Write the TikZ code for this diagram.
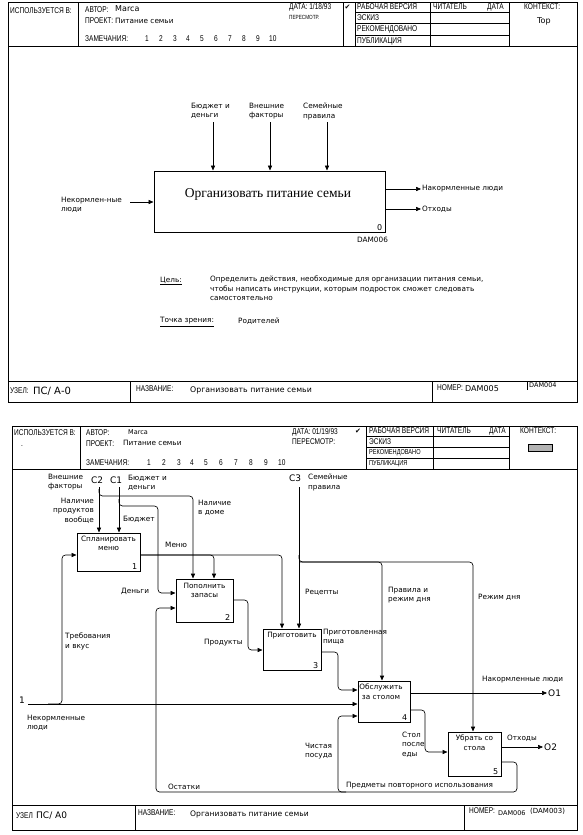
\documentclass[tikz,border=0pt]{standalone}
\usepackage{fontspec}
\setmainfont{DejaVu Sans}
\newfontfamily\hdr[FakeStretch=0.78]{Liberation Sans}
\newfontfamily\lserif{Liberation Serif}
\newfontfamily\dv{DejaVu Sans}
\usetikzlibrary{arrows.meta}
\tikzset{
  frm/.style={line width=0.9pt},
  rule/.style={line width=0.6pt},
  abox/.style={draw, line width=1pt, inner sep=0pt},
  conn/.style={line width=0.65pt, rounded corners=3.5pt},
  arr/.style={conn, -{Triangle[length=5pt,width=4.2pt]}},
  hd/.style={font=\hdr\fontsize{8.4}{9}\selectfont, inner sep=0pt, anchor=west},
  hds/.style={font=\hdr\fontsize{6}{7}\selectfont, inner sep=0pt, anchor=west},
  lb/.style={font=\dv\fontsize{7.3}{9.3}\selectfont, inner sep=0pt, align=left, anchor=west},
  lbnw/.style={lb, anchor=north west},
  bt/.style={font=\dv\fontsize{7.3}{9.3}\selectfont, inner sep=0pt, align=center, anchor=north},
  bn/.style={font=\dv\fontsize{8}{9}\selectfont, inner sep=0pt, anchor=south east},
  big/.style={font=\dv\fontsize{9}{10}\selectfont, inner sep=0pt, anchor=west}
}
\begin{document}
\begin{tikzpicture}[x=1pt,y=-1pt]
\useasboundingbox (0,0) rectangle (583,835);
\fill[white] (0,0) rectangle (583,835);

%================ TOP SHEET =================
\draw[frm] (8,2) rectangle (577,402);
\draw[frm] (8,46) -- (577,46);
\draw[frm] (8,381) -- (577,381);
\draw[rule] (78,2) -- (78,46);
\draw[rule] (343,2) -- (343,46);
\draw[rule] (355,2) -- (355,46);
\draw[rule] (430,2) -- (430,46);
\draw[rule] (509,2) -- (509,46);
\draw[rule] (355,12) -- (509,12);
\draw[rule] (355,23.5) -- (509,23.5);
\draw[rule] (355,35) -- (509,35);
\draw[rule] (130,381) -- (130,402);
\draw[rule] (432,381) -- (432,402);
\draw[rule] (527,382) -- (527,390);

\node[hd] (u1) at (10,11) {ИСПОЛЬЗУЕТСЯ В:};
\node[hd] (u2) at (85,10) {АВТОР:};
\node[lb, font=\dv\fontsize{8}{9}\selectfont] (u3) at (115,9) {Marca};
\node[hd] (u4) at (85,21) {ПРОЕКТ:};
\node[lb] (u5) at (115,21) {Питание семьи};
\node[hd] (u6) at (85,39) {ЗАМЕЧАНИЯ:};
\foreach \i/\x in {1/145,2/159,3/173,4/186,5/200,6/214,7/228,8/242,9/256,10/269}
  \node[hd] (un\i) at (\x,39) {\i};
\node[hd] (u8) at (289,7) {ДАТА: 1/18/93};
\node[hds] (u9) at (289,17) {ПЕРЕСМОТР.};
\node[lb, font=\dv\fontsize{7}{8}\selectfont] (u10) at (344.5,7) {✔};
\node[hd] (u11) at (357,7) {РАБОЧАЯ ВЕРСИЯ};
\node[hd] (u12) at (357,18) {ЭСКИЗ};
\node[hd] (u13) at (357,29.5) {РЕКОМЕНДОВАНО};
\node[hd] (u14) at (357,41) {ПУБЛИКАЦИЯ};
\node[hd] (u15) at (433,7) {ЧИТАТЕЛЬ};
\node[hd] (u16) at (487,7) {ДАТА};
\node[hd] (u17) at (524,7) {КОНТЕКСТ:};
\node[lb, font=\dv\fontsize{8}{9}\selectfont] (u18) at (537,21) {Top};

\node[hd] (f1) at (10,391) {УЗЕЛ:};
\node[big, font=\dv\fontsize{10}{11}\selectfont] (f2) at (33,391) {ПС/ А-0};
\node[hd] (f3) at (136,389) {НАЗВАНИЕ:};
\node[lb, font=\dv\fontsize{7.8}{9}\selectfont] (f4) at (190,390) {Организовать питание семьи};
\node[hd] (f5) at (437,388) {НОМЕР:};
\node[lb, font=\dv\fontsize{8}{9}\selectfont] (f6) at (465,389) {DAM005};
\node[lb, font=\dv\fontsize{6.5}{7}\selectfont] (f7) at (529,385) {DAM004};

% context diagram
\node[abox, minimum width=231pt, minimum height=61pt] (A0) at (269.5,201.5) {};
\node[font=\lserif\fontsize{13.5}{15}\selectfont, inner sep=0pt] (A0t) at (268,194) {Организовать питание семьи};
\node[bn] (A0n) at ([xshift=-3pt,yshift=2pt]A0.south east) {0};
\node[lb] (A0d) at (357,240) {DAM006};

\coordinate (k1) at (213,122);
\coordinate (k2) at (270,122);
\coordinate (k3) at (327,122);
\draw[arr] (k1) -- (k1 |- A0.north);
\draw[arr] (k2) -- (k2 |- A0.north);
\draw[arr] (k3) -- (k3 |- A0.north);
\node[lbnw] (l1) at (191,103) {Бюджет и\\деньги};
\node[lbnw] (l2) at (249,103) {Внешние\\факторы};
\node[lbnw] (l3) at (303,103) {Семейные\\правила};

\coordinate (in0) at (130,202);
\draw[arr] (in0) -- (in0 -| A0.west);
\node[lbnw] (l4) at (61,197) {Некормлен-ные\\люди};

\coordinate (o1) at (421,189);
\coordinate (o2) at (421,209);
\draw[arr] (o1 -| A0.east) -- (o1);
\draw[arr] (o2 -| A0.east) -- (o2);
\node[lb] (l5) at (422,189) {Накормленные люди};
\node[lb] (l6) at (422,209) {Отходы};

\node[lb] (g1) at (160,281) {\underline{Цель:}};
\node[lbnw] (g2) at (210,276) {Определить действия, необходимые для организации питания семьи,\\чтобы написать инструкции, которым подросток сможет следовать\\самостоятельно};
\node[lb] (g3) at (160,322) {\underline{Точка зрения:}};
\node[lb] (g4) at (238,321) {Родителей};

%================ BOTTOM SHEET =================
\draw[frm] (12,426) rectangle (577,830);
\draw[frm] (12,469) -- (577,469);
\draw[frm] (12,805) -- (577,805);
\draw[rule] (80,426) -- (80,469);
\draw[rule] (366,426) -- (366,469);
\draw[rule] (433,426) -- (433,469);
\draw[rule] (509,426) -- (509,469);
\draw[rule] (366,436) -- (509,436);
\draw[rule] (366,447) -- (509,447);
\draw[rule] (366,458) -- (509,458);
\draw[rule] (135,805) -- (135,830);
\draw[rule] (464,805) -- (464,830);

\node[hd] (v1) at (14,433) {ИСПОЛЬЗУЕТСЯ В:};
\node[hd] (v1b) at (21,446) {.};
\node[hd] (v2) at (86,433) {АВТОР:};
\node[lb, font=\dv\fontsize{6.5}{7}\selectfont] (v3) at (128,432) {Marca};
\node[hd] (v4) at (86,444) {ПРОЕКТ:};
\node[lb] (v5) at (123,443) {Питание семьи};
\node[hd] (v6) at (86,463) {ЗАМЕЧАНИЯ:};
\foreach \i/\x in {1/147,2/162,3/177,4/190,5/204,6/219,7/234,8/249,9/264,10/278}
  \node[hd] (vn\i) at (\x,463) {\i};
\node[hd] (v7) at (292,432) {ДАТА: 01/19/93};
\node[hd] (v8) at (292,442) {ПЕРЕСМОТР:};
\node[lb, font=\dv\fontsize{7}{8}\selectfont] (v9) at (355,431) {✔};
\node[hd] (v10) at (369,431) {РАБОЧАЯ ВЕРСИЯ};
\node[hd] (v11) at (369,441.5) {ЭСКИЗ};
\node[hds, font=\hdr\fontsize{7.2}{8}\selectfont] (v12) at (369,452.5) {РЕКОМЕНДОВАНО};
\node[hds, font=\hdr\fontsize{7.2}{8}\selectfont] (v13) at (369,463.5) {ПУБЛИКАЦИЯ};
\node[hd] (v14) at (437,431) {ЧИТАТЕЛЬ};
\node[hd] (v15) at (489,431) {ДАТА};
\node[hd] (v16) at (520,431) {КОНТЕКСТ:};
\node[draw, fill=gray!60, line width=0.4pt, minimum width=24pt, minimum height=7pt, inner sep=0pt] (v17) at (540,448) {};

\node[hd] (w1) at (16,816) {УЗЕЛ};
\node[big] (w2) at (36,816) {ПС/ А0};
\node[hd] (w3) at (138,813) {НАЗВАНИЕ:};
\node[lb, font=\dv\fontsize{7.6}{9}\selectfont] (w4) at (190,814) {Организовать питание семьи};
\node[hd] (w5) at (469,811) {НОМЕР:};
\node[lb, font=\dv\fontsize{6.5}{7}\selectfont] (w6) at (498,813) {DAM006};
\node[lb, font=\dv\fontsize{7}{8}\selectfont] (w7) at (530,811) {(DAM003)};

% activity boxes
\node[abox, minimum width=63pt, minimum height=38pt] (b1) at (108.5,552) {};
\node[abox, minimum width=57pt, minimum height=43pt] (b2) at (204.5,600.5) {};
\node[abox, minimum width=58pt, minimum height=41pt] (b3) at (292,649.5) {};
\node[abox, minimum width=52pt, minimum height=41pt] (b4) at (384,701.5) {};
\node[abox, minimum width=53pt, minimum height=44pt] (b5) at (474.5,754) {};
\node[bt] (b1t) at (108.5,536) {Спланировать\\меню};
\node[bt] (b2t) at (204.5,583) {Пополнить\\запасы};
\node[bt] (b3t) at (292,632) {Приготовить};
\node[bt] (b4t) at (381,684) {Обслужить\\за столом};
\node[bt] (b5t) at (474.5,735) {Убрать со\\стола};
\node[bn] (b1n) at ([xshift=-3pt,yshift=2pt]b1.south east) {1};
\node[bn] (b2n) at ([xshift=-3pt,yshift=2pt]b2.south east) {2};
\node[bn] (b3n) at ([xshift=-3pt,yshift=2pt]b3.south east) {3};
\node[bn] (b4n) at ([xshift=-3pt,yshift=2pt]b4.south east) {4};
\node[bn] (b5n) at ([xshift=-3pt,yshift=2pt]b5.south east) {5};

% controls C1, C2
\coordinate (c2) at (99,487);
\coordinate (c1) at (119,487);
\draw[arr] (c2) -- (c2 |- b1.north);
\draw[arr] (c1) -- (c1 |- b1.north);
\coordinate (c2a) at (99,489);
\coordinate (c2b) at (99,496);
\coordinate (p1) at (193,496);
\draw[arr] (c2a) -- (c2b) -- (p1) -- (p1 |- b2.north);
\coordinate (c1a) at (119,499);
\coordinate (c1b) at (119,506);
\coordinate (p2) at (158,506);
\coordinate (p3) at (158,593);
\draw[arr] (c1a) -- (c1b) -- (p2) -- (p3) -- (p3 -| b2.west);

% Menu
\coordinate (m0) at (140,555);
\coordinate (m1) at (214,555);
\coordinate (m2) at (282,555);
\draw[arr] (m0) -- (m1) -- (m1 |- b2.north);
\draw[arr] (m0) -- (m2) -- (m2 |- b3.north);

% Products
\coordinate (q0) at (233,600);
\coordinate (q1) at (248,600);
\coordinate (q2) at (248,650);
\draw[arr] (q0) -- (q1) -- (q2) -- (q2 -| b3.west);

% Cooked food
\coordinate (r0) at (321,652);
\coordinate (r1) at (338,652);
\coordinate (r2) at (338,690);
\draw[arr] (r0) -- (r1) -- (r2) -- (r2 -| b4.west);

% Input 1
\coordinate (i1) at (28,704);
\draw[arr] (i1) -- (i1 -| b4.west);
\coordinate (i2) at (48,704);
\coordinate (i3) at (62,704);
\coordinate (i4) at (62,555);
\draw[arr] (i2) -- (i3) -- (i4) -- (i4 -| b1.west);

% C3
\coordinate (c3) at (299,487);
\draw[arr] (c3) -- (c3 |- b3.north);
\coordinate (c3a) at (299,555);
\coordinate (c3b) at (299,562);
\coordinate (s1) at (382,562);
\coordinate (s2) at (473,562);
\draw[arr] (c3a) -- (c3b) -- (s1) -- (s1 |- b4.north);
\draw[arr] (c3b) -- (s2) -- (s2 |- b5.north);

% outputs of 4 and 5
\coordinate (o3) at (547,693);
\draw[arr] (o3 -| b4.east) -- (o3);
\coordinate (t0) at (410,710);
\coordinate (t1) at (425,710);
\coordinate (t2) at (425,752);
\draw[arr] (t0) -- (t1) -- (t2) -- (t2 -| b5.west);
\coordinate (o4) at (543,747);
\draw[arr] (o4 -| b5.east) -- (o4);

% reusable items loop
\coordinate (z0) at (501,762);
\coordinate (z1) at (517,762);
\coordinate (z2) at (517,792);
\coordinate (z3) at (156,792);
\coordinate (z4) at (156,608);
\draw[arr] (z0) -- (z1) -- (z2) -- (z3) -- (z4) -- (z4 -| b2.west);
\coordinate (y0) at (346,792);
\coordinate (y1) at (338,792);
\coordinate (y2) at (338,716);
\draw[arr] (y0) -- (y1) -- (y2) -- (y2 -| b4.west);

% labels lower diagram
\node[lbnw] (n1) at (48,474) {Внешние\\факторы};
\node[big] (n2) at (91,480) {C2};
\node[big] (n3) at (110,480) {C1};
\node[lbnw] (n4) at (128,475) {Бюджет и\\деньги};
\node[lb, anchor=north east, align=right] (n5) at (94,498) {Наличие\\продуктов\\вообще};
\node[lb] (n6) at (123,519) {Бюджет};
\node[lbnw] (n7) at (198,500) {Наличие\\в доме};
\node[lb] (n8) at (165,545) {Меню};
\node[lb] (n9) at (121,591) {Деньги};
\node[lbnw] (n10) at (65,633) {Требования\\и вкус};
\node[lb] (n11) at (204,643) {Продукты};
\node[big] (n12) at (289,478) {C3};
\node[lbnw] (n13) at (308,474) {Семейные\\правила};
\node[lb] (n14) at (305,592) {Рецепты};
\node[lbnw] (n15) at (388,587) {Правила и\\режим дня};
\node[lb] (n16) at (478,597) {Режим дня};
\node[lbnw] (n17) at (323,629) {Приготовленная\\пища};
\node[lb] (n18) at (482,680) {Накормленные люди};
\node[big] (n19) at (548,693) {O1};
\node[lbnw] (n20) at (402,732) {Стол\\после\\еды};
\node[lb] (n21) at (507,738) {Отходы};
\node[big] (n22) at (544,747) {O2};
\node[lbnw] (n23) at (305,743) {Чистая\\посуда};
\node[lb] (n24) at (346,786) {Предметы повторного использования};
\node[lb] (n25) at (168,787) {Остатки};
\node[big] (n26) at (19,700) {1};
\node[lbnw] (n27) at (27,715) {Некормленные\\люди};
\end{tikzpicture}
\end{document}
